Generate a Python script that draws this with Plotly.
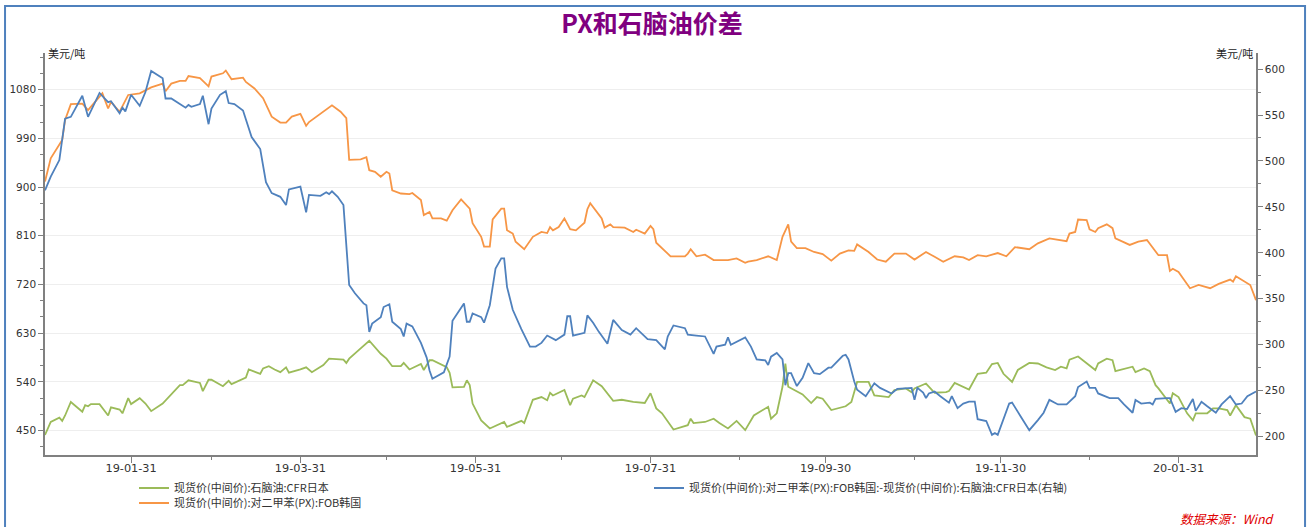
import plotly.graph_objects as go

# ---------------- data ----------------
naphtha_dates = [
    "2019-01-01","2019-01-03","2019-01-06","2019-01-07","2019-01-08","2019-01-10","2019-01-14","2019-01-15","2019-01-16","2019-01-17",
    "2019-01-20","2019-01-23","2019-01-24","2019-01-27","2019-01-28","2019-01-30","2019-01-31","2019-02-03","2019-02-05","2019-02-07",
    "2019-02-11","2019-02-17","2019-02-18","2019-02-20","2019-02-24","2019-02-25","2019-02-27","2019-02-28","2019-03-04","2019-03-06",
    "2019-03-07","2019-03-12","2019-03-13","2019-03-17","2019-03-18","2019-03-20","2019-03-22","2019-03-24","2019-03-26","2019-03-27",
    "2019-03-31","2019-04-02","2019-04-04","2019-04-08","2019-04-10","2019-04-15","2019-04-16","2019-04-17","2019-04-21","2019-04-24",
    "2019-04-28","2019-04-30","2019-05-02","2019-05-05","2019-05-06","2019-05-08","2019-05-12","2019-05-13","2019-05-15","2019-05-16",
    "2019-05-21","2019-05-22","2019-05-23","2019-05-27","2019-05-28","2019-05-29","2019-05-30","2019-06-02","2019-06-05","2019-06-10",
    "2019-06-11","2019-06-13","2019-06-16","2019-06-17","2019-06-20","2019-06-23","2019-06-25","2019-06-26","2019-06-27","2019-07-01",
    "2019-07-03","2019-07-04","2019-07-07","2019-07-08","2019-07-11","2019-07-14","2019-07-18","2019-07-21","2019-07-23","2019-07-25",
    "2019-07-29","2019-07-31","2019-08-02","2019-08-04","2019-08-08","2019-08-13","2019-08-14","2019-08-15","2019-08-19","2019-08-22",
    "2019-08-24","2019-08-27","2019-08-30","2019-09-02","2019-09-05","2019-09-10","2019-09-11","2019-09-13","2019-09-15","2019-09-16",
    "2019-09-17","2019-09-19","2019-09-22","2019-09-25","2019-09-27","2019-09-29","2019-10-02","2019-10-07","2019-10-09","2019-10-11",
    "2019-10-15","2019-10-17","2019-10-22","2019-10-24","2019-10-28","2019-10-30","2019-10-31","2019-11-04","2019-11-06","2019-11-07",
    "2019-11-11","2019-11-12","2019-11-14","2019-11-19","2019-11-22","2019-11-25","2019-11-27","2019-11-29","2019-12-01","2019-12-04",
    "2019-12-06","2019-12-10","2019-12-13","2019-12-16","2019-12-19","2019-12-21","2019-12-23","2019-12-24","2019-12-27","2019-12-30",
    "2020-01-02","2020-01-03","2020-01-06","2020-01-08","2020-01-09","2020-01-15","2020-01-16","2020-01-19","2020-01-21","2020-01-23",
    "2020-01-24","2020-01-28","2020-01-29","2020-01-31","2020-02-03","2020-02-05","2020-02-06","2020-02-10","2020-02-12","2020-02-14",
    "2020-02-17","2020-02-18","2020-02-20","2020-02-23","2020-02-25","2020-02-27",
]
naphtha = [
    442,466,474,468,478,503,485,497,495,499,
    499,478,493,489,482,510,499,510,500,486,
    500,534,534,543,538,523,544,544,532,542,
    536,548,563,555,565,569,563,558,567,557,
    563,567,558,571,583,581,575,583,602,616,
    592,583,569,569,575,563,573,562,580,580,
    567,557,530,531,543,534,500,469,454,466,
    457,462,468,464,507,512,506,520,515,525,
    497,509,515,512,543,532,505,507,505,503,
    501,519,491,482,452,460,472,464,466,472,
    464,454,468,451,478,494,472,482,531,574,
    531,525,517,501,512,509,488,495,503,540,
    540,515,512,525,528,521,528,537,525,520,
    521,523,538,526,555,557,573,575,555,540,
    562,575,574,567,562,568,565,581,587,574,
    562,574,583,580,560,568,558,565,560,534,
    528,500,519,512,482,469,482,482,491,491,
    488,478,497,475,472,441,
]

px_dates = [
    "2019-01-01","2019-01-03","2019-01-07","2019-01-08","2019-01-10","2019-01-14","2019-01-16","2019-01-21","2019-01-23","2019-01-24",
    "2019-01-27","2019-01-30","2019-02-03","2019-02-07","2019-02-11","2019-02-12","2019-02-14","2019-02-17","2019-02-19","2019-02-20",
    "2019-02-24","2019-02-27","2019-02-28","2019-03-04","2019-03-05","2019-03-07","2019-03-11","2019-03-12","2019-03-15","2019-03-18",
    "2019-03-21","2019-03-24","2019-03-26","2019-03-28","2019-03-31","2019-04-02","2019-04-03","2019-04-11","2019-04-14","2019-04-16",
    "2019-04-17","2019-04-21","2019-04-23","2019-04-24","2019-04-26","2019-04-28","2019-04-30","2019-05-01","2019-05-02","2019-05-05",
    "2019-05-08","2019-05-09","2019-05-12","2019-05-13","2019-05-15","2019-05-16","2019-05-19","2019-05-21","2019-05-23","2019-05-26",
    "2019-05-29","2019-05-30","2019-06-02","2019-06-03","2019-06-05","2019-06-06","2019-06-09","2019-06-10","2019-06-11","2019-06-13",
    "2019-06-14","2019-06-17","2019-06-20","2019-06-23","2019-06-25","2019-06-26","2019-06-27","2019-06-29","2019-07-01","2019-07-03",
    "2019-07-05","2019-07-08","2019-07-09","2019-07-10","2019-07-14","2019-07-15","2019-07-17","2019-07-18","2019-07-22","2019-07-25",
    "2019-07-26","2019-07-29","2019-07-31","2019-08-01","2019-08-02","2019-08-07","2019-08-12","2019-08-13","2019-08-14","2019-08-16",
    "2019-08-19","2019-08-22","2019-08-27","2019-08-30","2019-09-02","2019-09-03","2019-09-06","2019-09-10","2019-09-13","2019-09-15",
    "2019-09-17","2019-09-18","2019-09-20","2019-09-23","2019-09-26","2019-09-29","2019-10-02","2019-10-05","2019-10-08","2019-10-10",
    "2019-10-11","2019-10-15","2019-10-18","2019-10-21","2019-10-24","2019-10-28","2019-10-31","2019-11-04","2019-11-07","2019-11-10",
    "2019-11-14","2019-11-17","2019-11-19","2019-11-22","2019-11-25","2019-11-29","2019-12-02","2019-12-05","2019-12-10","2019-12-13",
    "2019-12-17","2019-12-19","2019-12-23","2019-12-24","2019-12-26","2019-12-27","2019-12-30","2019-12-31","2020-01-02","2020-01-03",
    "2020-01-06","2020-01-08","2020-01-09","2020-01-14","2020-01-17","2020-01-20","2020-01-22","2020-01-24","2020-01-27","2020-01-28",
    "2020-01-29","2020-01-31","2020-02-04","2020-02-07","2020-02-11","2020-02-14","2020-02-18","2020-02-19","2020-02-20","2020-02-22",
    "2020-02-25","2020-02-27",
]
px = [
    910,953,987,1024,1053,1054,1042,1073,1045,1057,
    1039,1070,1073,1084,1091,1077,1091,1096,1096,1105,
    1101,1086,1104,1110,1115,1099,1102,1094,1082,1064,
    1030,1019,1019,1030,1035,1013,1020,1051,1039,1027,
    950,951,955,931,928,919,928,925,894,888,
    887,889,876,848,854,842,842,838,857,877,
    860,833,808,790,790,840,860,860,820,814,
    799,785,808,817,815,826,820,826,842,822,
    820,834,859,870,842,825,831,826,825,817,
    821,814,828,822,797,772,772,777,785,772,
    775,765,765,768,760,762,765,772,765,808,
    831,799,787,787,780,776,764,777,783,782,
    794,780,766,762,777,777,766,780,771,762,
    772,770,765,774,772,778,772,789,785,796,
    805,803,800,814,817,840,839,822,817,824,
    831,824,805,793,799,802,789,774,774,745,
    749,743,713,719,713,721,729,725,735,729,
    719,691,
]

spread_dates = [
    "2019-01-01","2019-01-03","2019-01-06","2019-01-08","2019-01-10","2019-01-14","2019-01-16","2019-01-20","2019-01-23","2019-01-24",
    "2019-01-27","2019-01-28","2019-01-29","2019-01-31","2019-02-03","2019-02-05","2019-02-07","2019-02-11","2019-02-12","2019-02-14",
    "2019-02-17","2019-02-19","2019-02-20","2019-02-21","2019-02-24","2019-02-25","2019-02-27","2019-02-28","2019-03-03","2019-03-05",
    "2019-03-06","2019-03-08","2019-03-11","2019-03-14","2019-03-17","2019-03-19","2019-03-21","2019-03-24","2019-03-26","2019-03-27",
    "2019-03-31","2019-04-02","2019-04-03","2019-04-07","2019-04-09","2019-04-10","2019-04-11","2019-04-13","2019-04-15","2019-04-17",
    "2019-04-19","2019-04-22","2019-04-23","2019-04-24","2019-04-25","2019-04-28","2019-04-29","2019-05-01","2019-05-02","2019-05-05",
    "2019-05-06","2019-05-07","2019-05-09","2019-05-12","2019-05-14","2019-05-15","2019-05-16","2019-05-20","2019-05-22","2019-05-23",
    "2019-05-27","2019-05-28","2019-05-29","2019-05-30","2019-06-02","2019-06-03","2019-06-05","2019-06-07","2019-06-09","2019-06-10",
    "2019-06-11","2019-06-13","2019-06-16","2019-06-19","2019-06-21","2019-06-23","2019-06-25","2019-06-28","2019-07-01","2019-07-02",
    "2019-07-03","2019-07-04","2019-07-08","2019-07-09","2019-07-11","2019-07-13","2019-07-16","2019-07-18","2019-07-21","2019-07-24",
    "2019-07-26","2019-07-30","2019-08-02","2019-08-05","2019-08-06","2019-08-08","2019-08-12","2019-08-13","2019-08-16","2019-08-19",
    "2019-08-22","2019-08-23","2019-08-26","2019-08-27","2019-08-28","2019-09-02","2019-09-04","2019-09-06","2019-09-09","2019-09-10",
    "2019-09-11","2019-09-13","2019-09-15","2019-09-16","2019-09-17","2019-09-18","2019-09-20","2019-09-22","2019-09-24","2019-09-26",
    "2019-09-28","2019-10-01","2019-10-02","2019-10-06","2019-10-07","2019-10-08","2019-10-10","2019-10-11","2019-10-14","2019-10-17",
    "2019-10-19","2019-10-23","2019-10-25","2019-10-28","2019-10-30","2019-10-31","2019-11-01","2019-11-03","2019-11-04","2019-11-05",
    "2019-11-07","2019-11-09","2019-11-12","2019-11-13","2019-11-15","2019-11-17","2019-11-19","2019-11-21","2019-11-22","2019-11-25",
    "2019-11-27","2019-11-28","2019-11-29","2019-12-03","2019-12-04","2019-12-07","2019-12-10","2019-12-13","2019-12-15","2019-12-17",
    "2019-12-20","2019-12-23","2019-12-26","2019-12-27","2019-12-30","2019-12-31","2020-01-02","2020-01-03","2020-01-07","2020-01-10",
    "2020-01-12","2020-01-15","2020-01-16","2020-01-18","2020-01-21","2020-01-22","2020-01-23","2020-01-27","2020-01-28","2020-01-30",
    "2020-02-01","2020-02-03","2020-02-05","2020-02-06","2020-02-08","2020-02-10","2020-02-13","2020-02-15","2020-02-18","2020-02-20",
    "2020-02-22","2020-02-24","2020-02-27",
]
spread = [
    468,483,501,546,548,571,548,574,564,565,
    552,558,554,572,560,575,598,590,568,568,
    562,558,561,559,562,571,540,557,572,576,
    563,562,555,526,513,477,465,461,452,469,
    472,444,463,462,466,464,467,461,452,365,
    356,345,343,314,323,330,341,344,325,317,
    309,323,320,302,286,272,263,270,287,326,
    345,325,325,334,330,324,343,383,394,394,
    363,338,317,298,298,302,310,305,311,331,
    331,310,313,332,324,314,301,327,316,311,
    318,306,305,295,309,321,318,311,310,309,
    290,298,300,308,300,308,298,284,283,278,
    287,291,284,256,269,269,255,264,280,269,
    268,275,275,288,289,284,260,251,244,258,
    253,247,252,253,253,240,253,248,242,247,
    249,244,237,244,231,236,238,238,219,217,
    202,204,202,236,237,222,207,218,226,240,
    235,235,244,254,260,253,253,247,242,242,
    235,226,240,236,237,235,241,242,242,227,
    231,230,241,228,238,233,226,235,244,235,
    236,244,249,
]

series_names = [
    "现货价(中间价):石脑油:CFR日本",
    "现货价(中间价):对二甲苯(PX):FOB韩国:-现货价(中间价):石脑油:CFR日本(右轴)",
    "现货价(中间价):对二甲苯(PX):FOB韩国",
]
x_tick_vals = ["2019-01-31", "2019-03-31", "2019-05-31", "2019-07-31", "2019-09-30", "2019-11-30", "2020-01-31"]
x_tick_text = ["19-01-31", "19-03-31", "19-05-31", "19-07-31", "19-09-30", "19-11-30", "20-01-31"]
x_minor_vals = ["2019-02-28", "2019-04-30", "2019-06-30", "2019-08-31", "2019-10-31", "2019-12-31"]

# ---------------- figure ----------------
FONT = "DejaVu Sans, Noto Sans CJK SC, sans-serif"
CJK = "Noto Sans CJK SC, DejaVu Sans, sans-serif"
AXIS_COL = "#808080"
TXT = "#333333"

fig = go.Figure()
fig.add_trace(go.Scatter(x=naphtha_dates, y=naphtha, name=series_names[0], mode="lines",
                         line=dict(color="#9BBB59", width=1.8), yaxis="y", legend="legend"))
fig.add_trace(go.Scatter(x=spread_dates, y=spread, name=series_names[1], mode="lines",
                         line=dict(color="#4F81BD", width=1.8), yaxis="y2", legend="legend"))
fig.add_trace(go.Scatter(x=px_dates, y=px, name=series_names[2], mode="lines",
                         line=dict(color="#F79646", width=1.8), yaxis="y", legend="legend2"))

legend_common = dict(orientation="h", xref="container", yref="container", xanchor="left", yanchor="middle",
                     font=dict(family=CJK, size=11, color=TXT), bgcolor="rgba(0,0,0,0)", traceorder="normal")

fig.update_layout(
    width=1308, height=527,
    margin=dict(l=45, r=52, t=53, b=72, autoexpand=False),
    paper_bgcolor="white", plot_bgcolor="white",
    font=dict(family=FONT, size=11, color=TXT),
    title=dict(text="<b>PX和石脑油价差</b>", x=0.4985, xanchor="center", y=1 - 24.5 / 527, yanchor="middle",
               font=dict(family=CJK, size=25, color="#800080")),
    showlegend=True,
    legend=dict(x=134 / 1308, y=1 - 488 / 527, entrywidth=470, entrywidthmode="pixels", **legend_common),
    legend2=dict(x=134 / 1308, y=1 - 503 / 527, **legend_common),
    xaxis=dict(type="date", range=["2019-01-01", "2020-02-27"], automargin=False,
               tickmode="array", tickvals=x_tick_vals, ticktext=x_tick_text,
               ticks="outside", ticklen=6, tickcolor=AXIS_COL, tickwidth=1, ticklabelstandoff=-4,
               showline=True, linecolor=AXIS_COL, linewidth=1.5, showgrid=False, zeroline=False,
               tickfont=dict(family=FONT, size=11.3, color=TXT),
               minor=dict(tickvals=x_minor_vals, ticks="outside", ticklen=3, tickcolor=AXIS_COL, showgrid=False)),
    yaxis=dict(range=[405, 1147.5], tickmode="linear", tick0=450, dtick=90, automargin=False,
               ticks="outside", ticklen=5, tickcolor=AXIS_COL, tickwidth=1,
               showline=True, linecolor=AXIS_COL, linewidth=1.5,
               showgrid=True, gridcolor="#EEEEEE", gridwidth=1, zeroline=False,
               tickfont=dict(family=FONT, size=10.5, color=TXT),
               minor=dict(tick0=0, dtick=30, ticks="outside", ticklen=3, tickcolor=AXIS_COL, showgrid=False)),
    yaxis2=dict(range=[180, 617.5], overlaying="y", side="right", tickmode="linear", tick0=200, dtick=50,
                automargin=False,
                ticks="outside", ticklen=5, tickcolor=AXIS_COL, tickwidth=1,
                showline=True, linecolor=AXIS_COL, linewidth=1.5, showgrid=False, zeroline=False,
                tickfont=dict(family=FONT, size=10.5, color=TXT),
                minor=dict(tick0=0, dtick=25, ticks="outside", ticklen=3, tickcolor=AXIS_COL, showgrid=False)),
)

fig.add_annotation(text="美元/吨", xref="paper", yref="paper", x=0, y=1, xanchor="left", yanchor="middle",
                   xshift=1, showarrow=False, font=dict(family=CJK, size=11, color="#222222"))
fig.add_annotation(text="美元/吨", xref="paper", yref="paper", x=1, y=1, xanchor="right", yanchor="middle",
                   xshift=-1, showarrow=False, font=dict(family=CJK, size=11, color="#222222"))
fig.add_annotation(text="<i>数据来源：Wind</i>", xref="paper", yref="paper", x=1.0173, y=(455 - 518) / 402,
                   xanchor="right", yanchor="middle", showarrow=False,
                   font=dict(family=CJK, size=12.5, color="#E00000"))

# outer frame of the chart
fig.add_shape(type="rect", xref="paper", yref="paper", x0=-0.0330, x1=1.0405, y0=-0.19, y1=1.1169,
              line=dict(color="#4F81BD", width=2), fillcolor="rgba(0,0,0,0)", layer="below")

fig.write_html("out.html", config={"displayModeBar": False},
               post_script="document.body.style.margin='0px';document.body.style.overflow='hidden';")
